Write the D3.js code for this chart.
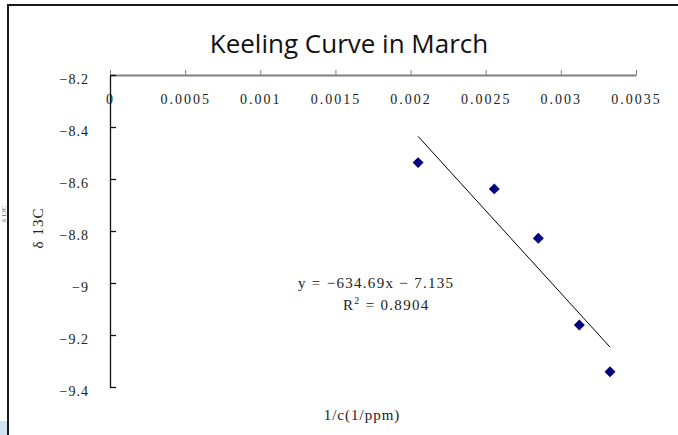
<!DOCTYPE html>
<html>
<head>
<meta charset="utf-8">
<script src="https://cdn.jsdelivr.net/npm/d3@7"></script>
<style>
  html, body { margin: 0; padding: 0; background: #ffffff; }
  svg { display: block; }
</style>
</head>
<body>
<svg id="chart" width="678" height="435"></svg>
<script>
// March Keeling plot: inverse CO2 concentration against delta 13C
const xValues = [0.00205, 0.002557, 0.00285, 0.003123, 0.003327];
const yValues = [-8.537, -8.638, -8.828, -9.1615, -9.341];

const xTicks = [0, 0.0005, 0.001, 0.0015, 0.002, 0.0025, 0.003, 0.0035];
const xTickLabels = ["0", "0.0005", "0.001", "0.0015", "0.002", "0.0025", "0.003", "0.0035"];
const yTicks = [-8.2, -8.4, -8.6, -8.8, -9, -9.2, -9.4];
const yTickLabels = ["\u22128.2", "\u22128.4", "\u22128.6", "\u22128.8", "\u22129", "\u22129.2", "\u22129.4"];

// Linear fit shown on the chart
const fitSlope = -634.69;
const fitIntercept = -7.135;
const fitR2 = "0.8904";

const SERIF = "'Liberation Serif', 'DejaVu Serif', serif";
const INK = "#222";

const svg = d3.select("#chart");

// Frame lines and the small tab at the lower left
svg.append("rect").attr("x", 0).attr("y", 421).attr("width", 7).attr("height", 14).attr("fill", "#cfe3f1");
svg.append("text")
  .attr("transform", "translate(6,214) rotate(-90)")
  .attr("text-anchor", "middle")
  .style("font-family", SERIF)
  .style("font-size", "7px").style("fill", "#666")
  .text("\u03b4 13C");
svg.append("line").attr("x1", 7).attr("x2", 678).attr("y1", 5).attr("y2", 5)
  .attr("stroke", "#1a1a1a").attr("stroke-width", 2);
svg.append("line").attr("x1", 8).attr("x2", 8).attr("y1", 4).attr("y2", 435)
  .attr("stroke", "#1a1a1a").attr("stroke-width", 2);

// Scales
const x = d3.scaleLinear().domain([0, 0.0035]).range([110, 636]);
const y = d3.scaleLinear().domain([-8.2, -9.4]).range([75, 387]);

// Title
svg.append("text")
  .attr("x", 349).attr("y", 53)
  .attr("text-anchor", "middle")
  .style("font-family", "'Open Sans', 'Liberation Sans', sans-serif")
  .style("font-size", "26px").style("fill", "#111")
  .text("Keeling Curve in March");

// Horizontal axis (drawn along y = -8.2, ticks upward, labels below)
const xAxis = d3.axisTop(x)
  .tickValues(xTicks)
  .tickSizeInner(5).tickSizeOuter(0)
  .tickFormat((d, i) => xTickLabels[i]);
const gx = svg.append("g").attr("transform", `translate(0,${y(-8.2)})`).call(xAxis);
gx.select(".domain").attr("stroke", "#808080").attr("stroke-width", 2);
gx.selectAll(".tick line").attr("stroke", "#808080").attr("stroke-width", 1);
gx.selectAll(".tick text")
  .attr("y", 29).attr("dy", 0)
  .attr("fill", INK)
  .style("font-family", SERIF)
  .style("font-size", "14px").style("letter-spacing", "2px");

// Vertical axis (ticks inward, labels on the left)
const yAxis = d3.axisLeft(y)
  .tickValues(yTicks)
  .tickSizeInner(-6).tickSizeOuter(0)
  .tickPadding(21)
  .tickFormat((d, i) => yTickLabels[i]);
const gy = svg.append("g").attr("transform", `translate(${x(0)},0)`).call(yAxis);
gy.select(".domain").attr("stroke", "#111").attr("stroke-width", 1.3);
gy.selectAll(".tick line").attr("stroke", "#111").attr("stroke-width", 1.3);
gy.selectAll(".tick text")
  .attr("dy", "0.62em")
  .attr("fill", INK)
  .style("font-family", SERIF)
  .style("font-size", "14px").style("letter-spacing", "1px");

// Axis titles
svg.append("text")
  .attr("transform", "translate(43,228) rotate(-90)")
  .attr("text-anchor", "middle")
  .style("font-family", SERIF).style("fill", INK)
  .style("font-size", "15px").style("letter-spacing", "1px")
  .text("\u03b4 13C");
svg.append("text")
  .attr("x", 362).attr("y", 420)
  .attr("text-anchor", "middle")
  .style("font-family", SERIF).style("fill", INK)
  .style("font-size", "15px").style("letter-spacing", "1px")
  .text("1/c(1/ppm)");

// Trend line over the range of the data
const xExt = d3.extent(xValues);
svg.append("line")
  .attr("x1", x(xExt[0])).attr("y1", y(fitSlope * xExt[0] + fitIntercept))
  .attr("x2", x(xExt[1])).attr("y2", y(fitSlope * xExt[1] + fitIntercept))
  .attr("stroke", "#000").attr("stroke-width", 1);

// Data markers (diamonds)
const diamond = d3.symbol().type(d3.symbolSquare).size(60);
svg.append("g").selectAll("path")
  .data(xValues.map((v, i) => [v, yValues[i]]))
  .join("path")
  .attr("d", diamond)
  .attr("transform", d => `translate(${x(d[0])},${y(d[1])}) rotate(45)`)
  .attr("fill", "#000080");

// Fit equation and R squared
const fmtSigned = v => (v < 0 ? "\u2212" : "") + Math.abs(v);
svg.append("text")
  .attr("x", 298).attr("y", 288)
  .style("font-family", SERIF).style("fill", INK)
  .style("font-size", "15px").style("letter-spacing", "1.3px")
  .text(`y = ${fmtSigned(fitSlope)}x ${fitIntercept < 0 ? "\u2212" : "+"} ${Math.abs(fitIntercept)}`);
const r2 = svg.append("text")
  .attr("x", 343).attr("y", 310)
  .style("font-family", SERIF).style("fill", INK)
  .style("font-size", "15px").style("letter-spacing", "1.3px");
r2.append("tspan").text("R");
r2.append("tspan").attr("dy", -6).style("font-size", "10px").text("2");
r2.append("tspan").attr("dy", 6).text(` = ${fitR2}`);
</script>
</body>
</html>
